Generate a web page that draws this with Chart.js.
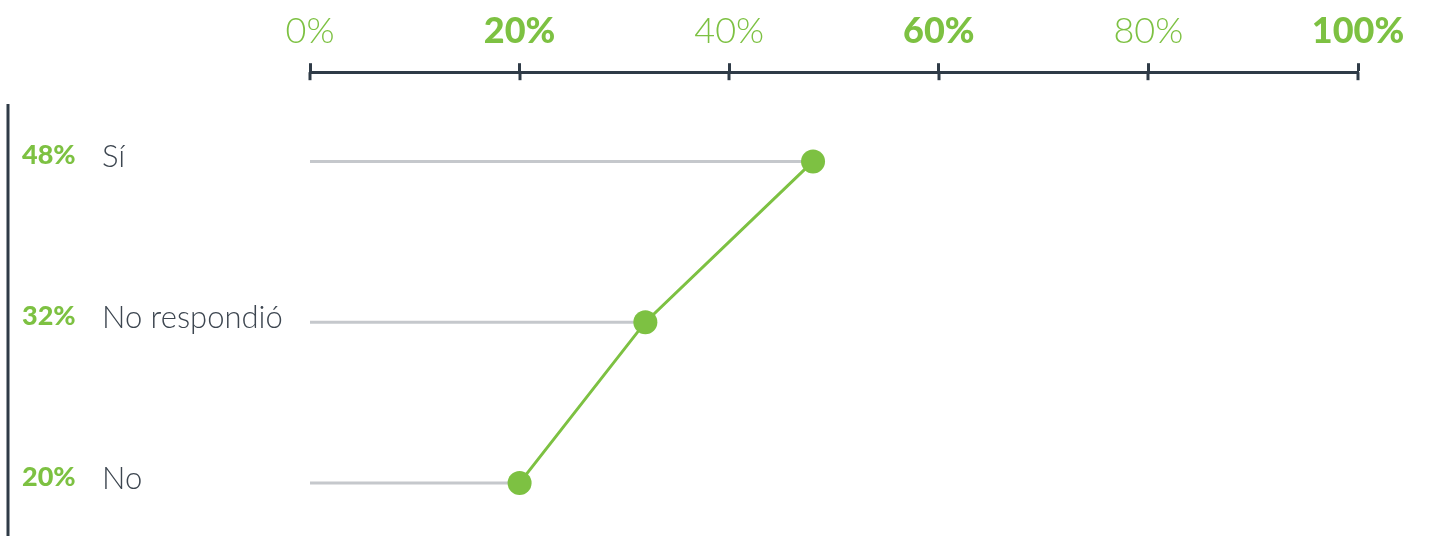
<!DOCTYPE html>
<html>
<head>
<meta charset="utf-8">
<script src="https://cdn.jsdelivr.net/npm/chart.js@4"></script>
<style>
  html, body { margin:0; padding:0; background:#fff; overflow:hidden; }
  #wrap { position:relative; width:1433px; height:536px; }
</style>
</head>
<body>
<div id="wrap"><canvas id="chart"></canvas></div>
<script>
// Data
const categories = ['Sí', 'No respondió', 'No'];
const values = [48, 32, 20];
const tickValues = [0, 20, 40, 60, 80, 100];

const GREEN = '#7dc142';
const DARK = '#2f3b47';
const GREY = '#c5c8cc';

// gray guide lines: one two-point line per row, from 0 to the value
const guideSets = values.map((v, i) => ({
  type: 'line',
  data: [{x: 0, y: i}, {x: v, y: i}],
  borderColor: GREY,
  borderWidth: 3,
  pointRadius: 0,
  order: 2
}));

const mainSet = {
  type: 'line',
  data: values.map((v, i) => ({x: v, y: i})),
  borderColor: GREEN,
  borderWidth: 3,
  pointRadius: 12,
  pointBackgroundColor: GREEN,
  pointBorderWidth: 0,
  order: 1
};

// left labels + lower half of tick marks + left rule
const decor = {
  id: 'decor',
  afterDraw(chart){
    const c = chart.ctx;
    const xs = chart.scales.x, ys = chart.scales.y;
    const top = chart.chartArea.top;
    c.save();
    // tick marks below the axis line
    c.strokeStyle = DARK; c.lineWidth = 3;
    tickValues.forEach(t => {
      const px = Math.round(xs.getPixelForValue(t));
      c.beginPath(); c.moveTo(px, top); c.lineTo(px, top + 8); c.stroke();
    });
    // left rule
    c.beginPath(); c.moveTo(8, 104); c.lineTo(8, 536); c.stroke();
    // row labels
    c.textBaseline = 'middle';
    categories.forEach((name, i) => {
      const py = ys.getPixelForValue(i);
      c.font = '900 27px Lato';
      c.fillStyle = GREEN;
      c.textAlign = 'left';
      c.fillText(values[i] + '%', 22, py - 6);
      c.font = '300 31px Lato';
      c.fillStyle = '#3d4650';
      c.fillText(name, 102, py - 4);
    });
    c.restore();
  }
};

new Chart(document.getElementById('chart'), {
  data: { datasets: [...guideSets, mainSet] },
  options: {
    responsive: true,
    maintainAspectRatio: false,
    animation: false,
    layout: { autoPadding: false, padding: { left: 310, right: 75, top: 0, bottom: 0 } },
    plugins: { legend: { display: false }, tooltip: { enabled: false } },
    scales: {
      x: {
        type: 'linear',
        position: 'top',
        min: 0, max: 100,
        afterBuildTicks: (s) => { s.ticks = tickValues.map(v => ({value: v})); },
        border: { display: true, color: DARK, width: 3 },
        grid: { drawOnChartArea: false, drawTicks: true, tickLength: 9, tickWidth: 3, tickColor: DARK },
        ticks: {
          padding: 10,
          color: GREEN,
          maxRotation: 0,
          callback: (v) => v + '%',
          font: (ctx) => ({ family: 'Lato', size: 36, weight: (ctx.index % 2) ? '900' : '300' })
        }
      },
      y: {
        type: 'linear',
        reverse: true,
        min: -0.555, max: 2.33,
        display: false
      }
    }
  },
  plugins: [decor]
});
</script>
</body>
</html>
